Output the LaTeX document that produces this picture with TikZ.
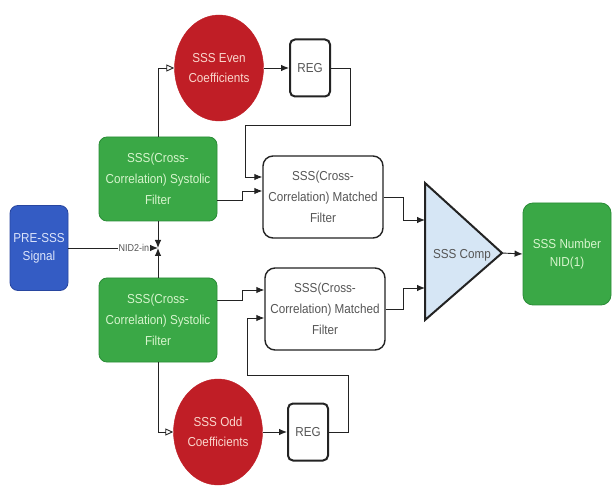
\documentclass[tikz,border=0pt]{standalone}
\usepackage{fontspec}
\setmainfont{Liberation Sans}[FakeStretch=0.9]
\usetikzlibrary{shapes.geometric,arrows.meta,calc}
\definecolor{gfill}{RGB}{58,168,70}
\definecolor{gedge}{RGB}{42,140,55}
\definecolor{gtext}{RGB}{215,245,205}
\definecolor{bfill}{RGB}{52,92,196}
\definecolor{bedge}{RGB}{40,70,160}
\definecolor{btext}{RGB}{220,228,250}
\definecolor{rfill}{RGB}{192,30,38}
\definecolor{rtext}{RGB}{250,215,205}
\definecolor{tfill}{RGB}{214,230,245}
\definecolor{ink}{RGB}{35,35,35}
\definecolor{txt}{RGB}{85,85,85}
\begin{document}
\begin{tikzpicture}[x=1pt,y=-1pt,
  base/.style={align=center, inner sep=1pt, font=\fontsize{13}{21}\selectfont},
  gbox/.style={base, rectangle, rounded corners=8pt, fill=gfill, draw=gedge, line width=0.8pt, text=gtext, minimum width=118pt, minimum height=84pt},
  bbox/.style={base, rectangle, rounded corners=8pt, fill=bfill, draw=bedge, line width=0.8pt, text=btext, minimum width=58pt, minimum height=85pt, font=\fontsize{13}{18}\selectfont},
  obox/.style={base, rectangle, rounded corners=10pt, fill=gfill, draw=gedge, line width=0.8pt, text=gtext, minimum width=88pt, minimum height=102pt, font=\fontsize{13}{18}\selectfont},
  coef/.style={base, ellipse, fill=rfill, draw=rfill, text=rtext, minimum width=82pt, minimum height=106pt, font=\fontsize{13}{20}\selectfont},
  regbox/.style={base, rectangle, rounded corners=5pt, draw=ink, line width=2pt, fill=white, text=txt, minimum width=40pt, minimum height=57pt},
  mfbox/.style={base, rectangle, rounded corners=10pt, draw=ink, line width=1.4pt, fill=white, text=txt, minimum width=120pt, minimum height=82pt},
  conn/.style={draw=ink, line width=0.9pt, -{Latex[length=8pt,width=6.5pt]}},
  oconn/.style={draw=ink, line width=0.9pt, -{Triangle[open,length=8pt,width=7pt]}},
  lbl/.style={fill=white, inner sep=1pt, text=txt, font=\fontsize{10}{12}\selectfont}
]
\useasboundingbox (0,0) rectangle (613,494);
\fill[white] (0,0) rectangle (613,494);

% nodes
\node[bbox] (pre) at (39,248) {PRE-SSS\\Signal};
\node[gbox] (sysU) at (158,179) {SSS(Cross-\\Correlation) Systolic\\Filter};
\node[gbox] (sysL) at (158,320) {SSS(Cross-\\Correlation) Systolic\\Filter};
\node[coef] (evenE) at (219,68) {SSS Even\\Coefficients};
\node[coef] (oddE) at (218,432) {SSS Odd\\Coefficients};
\node[regbox] (regU) at (310,68) {REG};
\node[regbox] (regL) at (308,432) {REG};
\node[mfbox] (mfU) at (323,197) {SSS(Cross-\\Correlation) Matched\\Filter};
\node[mfbox] (mfL) at (325,309) {SSS(Cross-\\Correlation) Matched\\Filter};
\node[obox] (out) at (567,254) {SSS Number\\NID(1)};

% comparator triangle
\coordinate (cTop) at (425,183);
\coordinate (cBot) at (425,320);
\coordinate (cTip) at (502,253);
\draw[draw=ink, line width=2pt, fill=tfill, line join=miter] (cTop) -- (cTip) -- (cBot) -- cycle;
\node[base, text=txt] (comp) at (462,255) {SSS Comp};
\coordinate (cinU) at (425,220);
\coordinate (cinL) at (425,288);

% junction
\coordinate (J) at (158,248);
\draw[conn] (pre.east) -- node[lbl, pos=0.73] {NID2-in} (J);
\draw[conn] (sysU.south) -- (J);
\draw[conn] (sysL.north) -- (J);

% to coefficients
\draw[oconn] (sysU.north) |- (evenE.west);
\draw[oconn] (sysL.south) |- (oddE.west);
\draw[conn] (evenE.east) -- (regU.west);
\draw[conn] (oddE.east) -- (regL.west);

% upper matched filter inputs
\coordinate (fU1) at (350,125);
\coordinate (fU2) at (245,125);
\draw[conn] (regU.east) -| (fU1) -- (fU2) |- ($(mfU.west)+(0,-20)$);
\coordinate (sU) at (242,191);
\draw[conn] ($(sysU.east)+(0,21)$) -| (sU) -- ($(mfU.west)+(0,-6)$);

% lower matched filter inputs
\coordinate (sL) at (242,290);
\draw[conn] ($(sysL.east)+(0,-20)$) -| (sL) -- ($(mfL.west)+(0,-19)$);
\coordinate (fL1) at (348,375);
\coordinate (fL2) at (247,375);
\draw[conn] (regL.east) -| (fL1) -- (fL2) |- ($(mfL.west)+(0,9)$);

% to comparator
\coordinate (oU) at (403,220);
\coordinate (oL) at (403,288);
\draw[conn] (mfU.east) -| (oU) -- (cinU);
\draw[conn] (mfL.east) -| (oL) -- (cinL);
\draw[conn] (cTip) -- (out.west);
\end{tikzpicture}
\end{document}
